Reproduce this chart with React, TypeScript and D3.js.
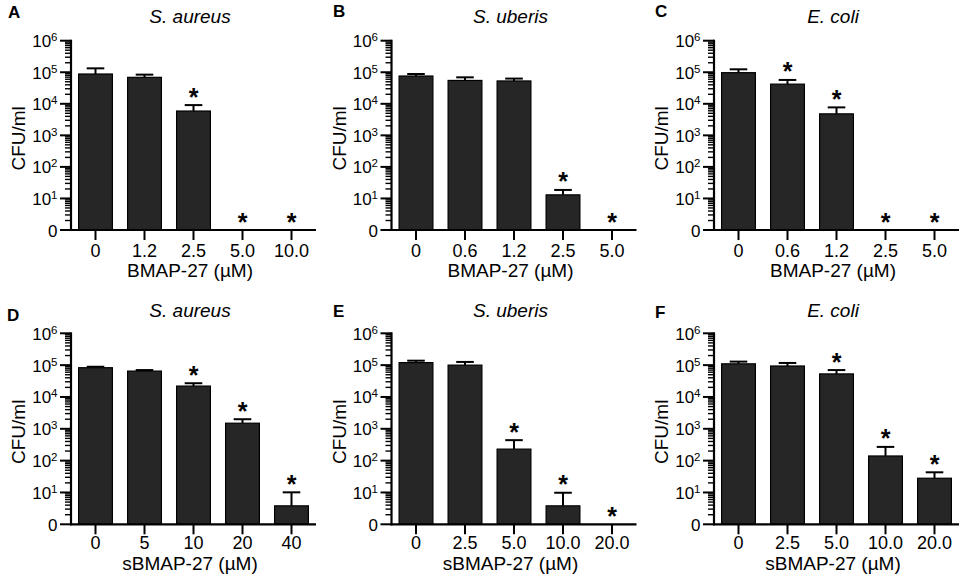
import * as d3 from "d3"

// values (CFU/ml); 0 = nothing recovered
const catsA = ["0", "1.2", "2.5", "5.0", "10.0"]
const meanA = [8.8e4, 6.9e4, 5.9e3, 0, 0]
const upperA = [1.33e5, 8.4e4, 9.1e3, 0, 0]
const sigA = [false, false, true, true, true]

const catsB = ["0", "0.6", "1.2", "2.5", "5.0"]
const meanB = [7.6e4, 5.5e4, 5.3e4, 13, 0]
const upperB = [8.8e4, 6.9e4, 6.3e4, 18.6, 0]
const sigB = [false, false, false, true, true]

const catsC = ["0", "0.6", "1.2", "2.5", "5.0"]
const meanC = [9.7e4, 4.2e4, 4.8e3, 0, 0]
const upperC = [1.24e5, 5.7e4, 7.7e3, 0, 0]
const sigC = [false, true, true, true, true]

const catsD = ["0", "5", "10", "20", "40"]
const meanD = [8.3e4, 6.5e4, 2.2e4, 1.5e3, 3.8]
const upperD = [8.9e4, 7.0e4, 2.7e4, 2.0e3, 10.1]
const sigD = [false, false, true, true, true]

const catsE = ["0", "2.5", "5.0", "10.0", "20.0"]
const meanE = [1.2e5, 1.0e5, 2.3e2, 3.8, 0]
const upperE = [1.38e5, 1.26e5, 4.4e2, 9.8, 0]
const sigE = [false, false, true, true, true]

const catsF = ["0", "2.5", "5.0", "10.0", "20.0"]
const meanF = [1.1e5, 9.4e4, 5.3e4, 1.4e2, 28]
const upperF = [1.29e5, 1.17e5, 7.0e4, 2.7e2, 43]
const sigF = [false, false, true, true, true]

const yTicks = [1, 10, 100, 1e3, 1e4, 1e5, 1e6]

const FONT = "Liberation Sans, Arial, sans-serif"

const panels = [
  { letter: "A", title: "S. aureus", xTitle: "BMAP-27 (µM)", cats: catsA, mean: meanA, upper: upperA, sig: sigA, col: 0, row: 0, lx: 8, ly: 18 },
  { letter: "B", title: "S. uberis", xTitle: "BMAP-27 (µM)", cats: catsB, mean: meanB, upper: upperB, sig: sigB, col: 1, row: 0, lx: 333, ly: 17 },
  { letter: "C", title: "E. coli", xTitle: "BMAP-27 (µM)", cats: catsC, mean: meanC, upper: upperC, sig: sigC, col: 2, row: 0, lx: 655, ly: 17 },
  { letter: "D", title: "S. aureus", xTitle: "sBMAP-27 (µM)", cats: catsD, mean: meanD, upper: upperD, sig: sigD, col: 0, row: 1, lx: 7, ly: 320.5 },
  { letter: "E", title: "S. uberis", xTitle: "sBMAP-27 (µM)", cats: catsE, mean: meanE, upper: upperE, sig: sigE, col: 1, row: 1, lx: 333, ly: 316.5 },
  { letter: "F", title: "E. coli", xTitle: "sBMAP-27 (µM)", cats: catsF, mean: meanF, upper: upperF, sig: sigF, col: 2, row: 1, lx: 655, ly: 318 },
]

const colX = [71, 391.5, 714]
const rows = [
  { top: 40.7, zero: 230, titleY: 23, tickY: 257, xTitleY: 277 },
  { top: 333.3, zero: 524.3, titleY: 316.5, tickY: 548.5, xTitleY: 570 },
]
const AXIS_W = 245

const Panel = ({ p }) => {
  const ax = colX[p.col]
  const r = rows[p.row]
  const x = d3.scaleBand().domain(p.cats).range([ax, ax + AXIS_W]).paddingInner(0.31).paddingOuter(0.155)
  const y = d3.scaleLog().domain([1, 1e6]).range([r.zero, r.top])
  const minor = []
  for (let d = 0; d < 6; d++) for (let k = 2; k <= 9; k++) minor.push(k * Math.pow(10, d))
  const mid = ax + AXIS_W / 2 - 3.5
  const bw = x.bandwidth()

  return (
    <g>
      <text x={p.lx} y={p.ly} fontSize={17} fontWeight="bold" fontFamily={FONT}>{p.letter}</text>
      <text x={mid} y={r.titleY} fontSize={19} fontStyle="italic" textAnchor="middle" fontFamily={FONT}>{p.title}</text>

      {/* bars + error bars */}
      {p.cats.map((c, i) => {
        const cx = x(c) + bw / 2
        if (p.mean[i] <= 0) return null
        return (
          <g key={c}>
            <line x1={cx} x2={cx} y1={y(p.mean[i])} y2={y(p.upper[i])} stroke="#000" strokeWidth={2} />
            <line x1={cx - 8.8} x2={cx + 8.8} y1={y(p.upper[i])} y2={y(p.upper[i])} stroke="#000" strokeWidth={2} />
            <rect x={x(c)} y={y(p.mean[i])} width={bw} height={r.zero - y(p.mean[i])} fill="#262626" stroke="#000" strokeWidth={1.2} />
          </g>
        )
      })}

      {/* significance marks */}
      {p.cats.map((c, i) => p.sig[i] ? (
        <text key={"s" + c} x={x(c) + bw / 2} y={(p.mean[i] > 0 ? y(p.upper[i]) : r.zero) + 0.5}
          fontSize={25} fontWeight="bold" textAnchor="middle" fontFamily={FONT}>*</text>
      ) : null)}

      {/* y axis */}
      <line x1={ax} x2={ax} y1={r.top - 1} y2={r.zero + 1} stroke="#000" strokeWidth={2.2} />
      {minor.map(v => (
        <line key={"m" + v} x1={ax - 6} x2={ax} y1={y(v)} y2={y(v)} stroke="#000" strokeWidth={1.4} />
      ))}
      {yTicks.map(v => (
        <g key={"t" + v}>
          <line x1={ax - 11} x2={ax} y1={y(v)} y2={y(v)} stroke="#000" strokeWidth={2} />
          <text x={ax - 13.5} y={y(v) + 6.5} fontSize={17} textAnchor="end" fontFamily={FONT}>
            {v === 1 ? "0" : (
              <>
                <tspan>10</tspan>
                <tspan fontSize={11.5} dy={-6}>{Math.round(Math.log10(v))}</tspan>
              </>
            )}
          </text>
        </g>
      ))}
      <text transform={`translate(${ax - 46},${(r.top + r.zero) / 2 + 3}) rotate(-90)`} fontSize={19}
        textAnchor="middle" fontFamily={FONT}>CFU/ml</text>

      {/* x axis */}
      <line x1={ax - 1} x2={ax + AXIS_W} y1={r.zero} y2={r.zero} stroke="#000" strokeWidth={2.2} />
      {p.cats.map(c => (
        <g key={"x" + c}>
          <line x1={x(c) + bw / 2} x2={x(c) + bw / 2} y1={r.zero} y2={r.zero + 10} stroke="#000" strokeWidth={2} />
          <text x={x(c) + bw / 2} y={r.tickY} fontSize={18} textAnchor="middle" fontFamily={FONT}>{c}</text>
        </g>
      ))}
      <text x={mid} y={r.xTitleY} fontSize={19} textAnchor="middle" fontFamily={FONT}>{p.xTitle}</text>
    </g>
  )
}

export default function App() {
  return (
    <svg width={965} height={586} style={{ position: "absolute", left: 0, top: 0, background: "#fff" }}>
      {panels.map(p => <Panel key={p.letter} p={p} />)}
    </svg>
  )
}
